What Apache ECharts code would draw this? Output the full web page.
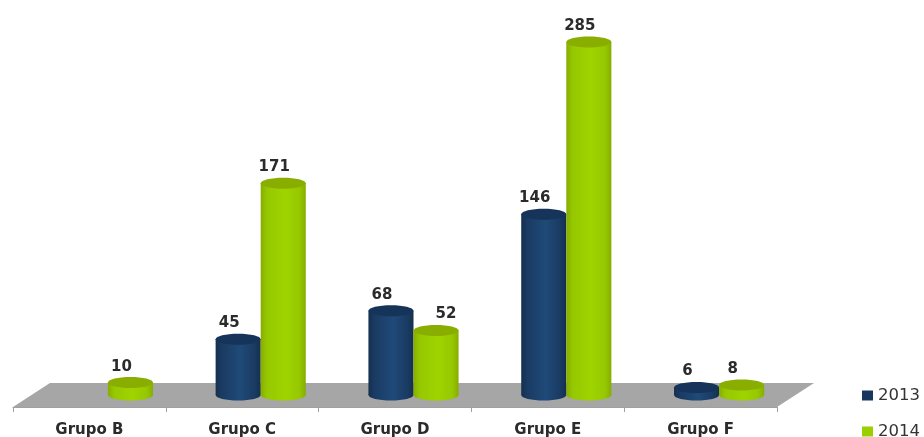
<!DOCTYPE html>
<html>
<head>
<meta charset="utf-8">
<style>html,body{margin:0;padding:0;background:#fff}#chart{width:924px;height:437px}</style>
<script src="https://cdn.jsdelivr.net/npm/echarts@6/dist/echarts.min.js"></script>
</head>
<body>
<div id="chart"></div>
<script>
const categories = ['Grupo B', 'Grupo C', 'Grupo D', 'Grupo E', 'Grupo F'];
const values2013 = [null, 45, 68, 146, 6];
const values2014 = [10, 171, 52, 285, 8];

// Fake 3D: the floor recedes up and to the right, cylinders stand in its middle.
const FLOOR_DX = 37, FLOOR_DY = 24;
const BAR_RATIO = 0.295, TOP_RY = 5.5;
const FONT = '"DejaVu Sans", Verdana, sans-serif';
const LABEL_DX = -9, LABEL_DY = -16;
const GROUP_D_2014_DX = 10; // the 52 label sits to the right, clear of its neighbour

function cylinder(side, palette) {
  return function (params, api) {
    const v = api.value(1);
    if (v == null || isNaN(v)) return null;
    const band = api.size([1, 0])[0];
    const w = band * BAR_RATIO, rx = w / 2;
    const p = api.coord([api.value(0), v]);
    const b = api.coord([api.value(0), 0]);
    const cx = p[0] + FLOOR_DX / 2 + side * w / 2;
    const topY = p[1] - FLOOR_DY / 2;
    const baseY = b[1] - FLOOR_DY / 2;
    const dx = (side > 0 && api.value(0) === 2) ? GROUP_D_2014_DX : LABEL_DX;
    const body = new echarts.graphic.LinearGradient(0, 0, 1, 0, [
      { offset: 0, color: palette.edge },
      { offset: 0.14, color: palette.main },
      { offset: 0.55, color: palette.light },
      { offset: 0.86, color: palette.main },
      { offset: 1, color: palette.edge }
    ]);
    return {
      type: 'group',
      children: [
        { type: 'ellipse', shape: { cx: cx, cy: baseY, rx: rx, ry: TOP_RY }, style: { fill: body } },
        { type: 'rect', shape: { x: cx - rx, y: topY, width: w, height: baseY - topY }, style: { fill: body } },
        { type: 'ellipse', shape: { cx: cx, cy: topY, rx: rx, ry: TOP_RY }, style: { fill: palette.top } },
        { type: 'text', z2: 10, style: {
            x: cx + dx, y: topY + LABEL_DY, text: String(v), align: 'center', verticalAlign: 'middle',
            fill: '#2b2b2b', font: 'bold 15px ' + FONT
        } }
      ]
    };
  };
}

const toPoints = arr => arr.map((v, i) => [i, v]);

const navy = { edge: '#15304f', main: '#1a3b63', light: '#1f4a78', top: '#16335a' };
const lime = { edge: '#86ad00', main: '#96c800', light: '#9fd400', top: '#89ae00' };

const chart = echarts.init(document.getElementById('chart'), null, { renderer: 'canvas' });
chart.setOption({
  animation: false,
  backgroundColor: '#fff',
  grid: { left: 13, right: 147, top: 10.6, bottom: 30, outerBoundsMode: 'none' },
  legend: {
    orient: 'vertical', left: 862, top: 387, height: 100, width: 70, itemWidth: 11, itemHeight: 10, itemGap: 19,
    icon: 'rect', padding: 0,
    data: ['2013', '2014'],
    textStyle: { color: '#333', fontFamily: FONT, fontSize: 16.5, padding: [0, 0, 0, 0] }
  },
  xAxis: {
    type: 'category', data: categories,
    axisLine: { lineStyle: { color: '#a0a0a0', width: 1 } },
    axisTick: { show: true, length: 5, lineStyle: { color: '#a0a0a0' } },
    axisLabel: { color: '#2b2b2b', fontFamily: FONT, fontSize: 15, fontWeight: 'bold', margin: 16 },
    splitLine: { show: false }
  },
  yAxis: { type: 'value', min: 0, max: 320, show: false },
  series: [
    {
      // Grey floor of the plot, derived from the grid rectangle
      type: 'custom', silent: true, z: 1, data: [[0, 0]],
      encode: { x: 0, y: 1 },
      renderItem: function (params, api) {
        const g = params.coordSys;
        const y = g.y + g.height;
        return {
          type: 'polygon',
          shape: { points: [
            [g.x, y], [g.x + g.width, y],
            [g.x + g.width + FLOOR_DX, y - FLOOR_DY], [g.x + FLOOR_DX, y - FLOOR_DY]
          ] },
          style: { fill: '#a6a6a6' }
        };
      }
    },
    {
      name: '2013', type: 'custom', z: 2, data: toPoints(values2013),
      encode: { x: 0, y: 1 }, itemStyle: { color: '#17375e' },
      renderItem: cylinder(-1, navy)
    },
    {
      name: '2014', type: 'custom', z: 3, data: toPoints(values2014),
      encode: { x: 0, y: 1 }, itemStyle: { color: '#9bcf00' },
      renderItem: cylinder(1, lime)
    }
  ]
});
</script>
</body>
</html>
